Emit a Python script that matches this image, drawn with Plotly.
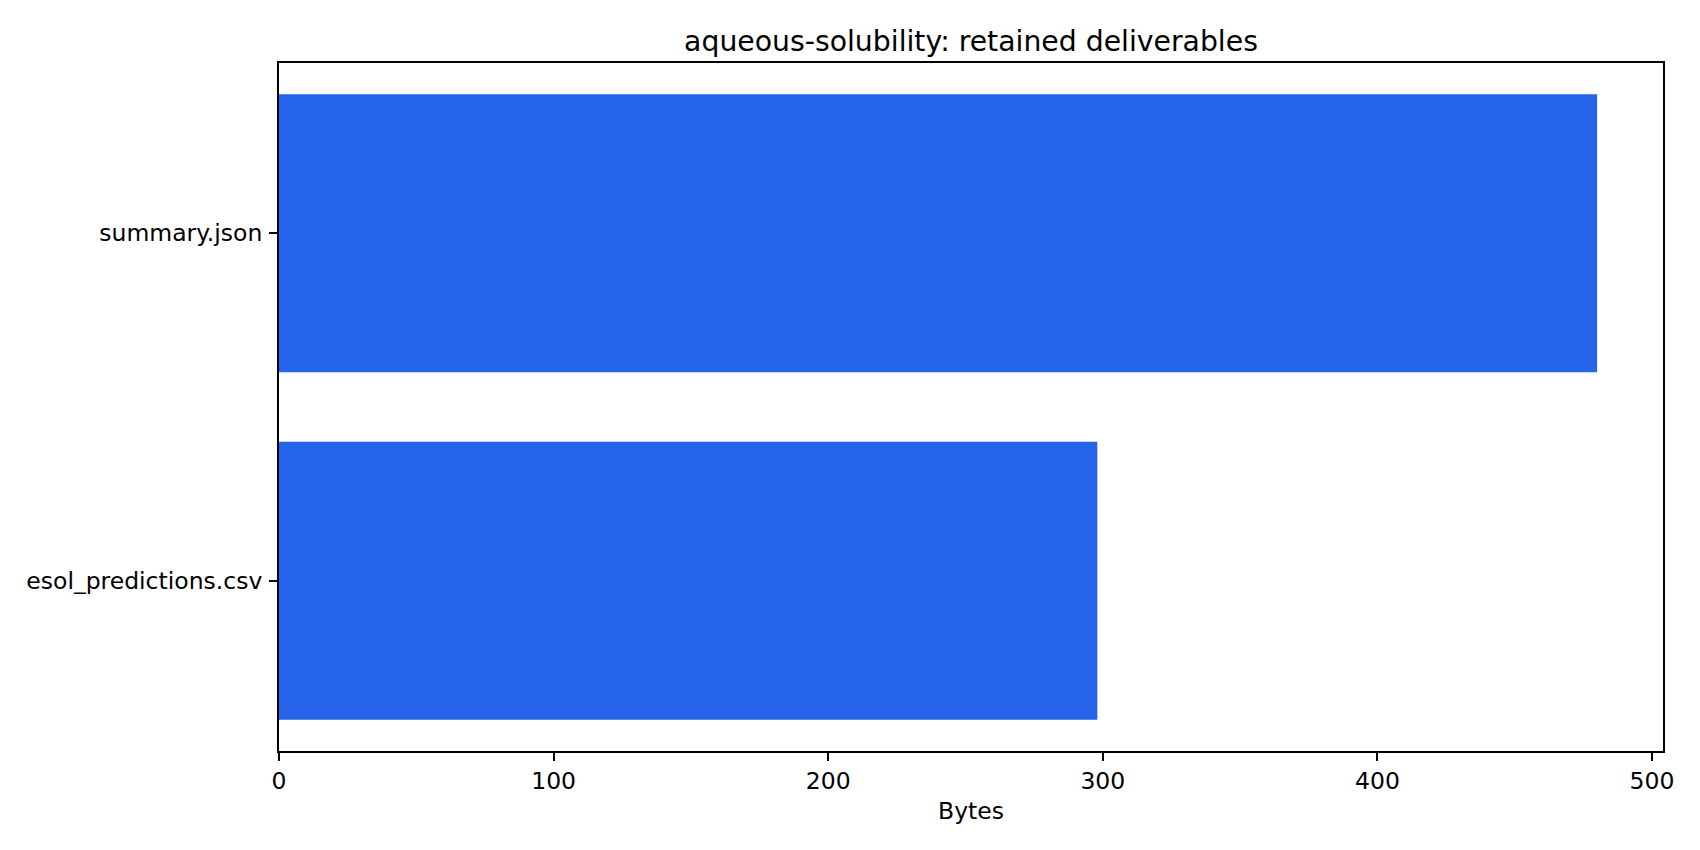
"""
Horizontal bar chart of the retained deliverable files and their sizes
for the aqueous-solubility run.
"""

import plotly.graph_objects as go

# file names, bottom to top
FILES = ["esol_predictions.csv", "summary.json"]
# size of each file in bytes
SIZES = [298, 480]
X_TICKS = [0, 100, 200, 300, 400, 500]

TITLE = "aqueous-solubility: retained deliverables"
X_LABEL = "Bytes"

FONT = "DejaVu Sans"
BAR_COLOR = "#2563eb"


def build_figure() -> go.Figure:
    fig = go.Figure(
        go.Bar(
            x=SIZES,
            y=FILES,
            orientation="h",
            marker_color=BAR_COLOR,
            marker_line_width=0))

    # matplotlib style box around the plot area
    axis_style = dict(
        showline=True,
        linecolor="black",
        linewidth=1.9,
        mirror=True,
        ticks="outside",
        ticklen=8,
        tickwidth=1.9,
        tickcolor="black",
        showgrid=False,
        zeroline=False,
        tickfont=dict(family=FONT, size=23.5, color="black"))

    fig.update_xaxes(
        range=[0, 504],
        tickvals=X_TICKS,
        title=dict(text=X_LABEL, font=dict(family=FONT, size=23.5,
                                           color="black"), standoff=8),
        **axis_style)
    fig.update_yaxes(
        type="category",
        range=[-0.49, 1.49],
        ticklabelstandoff=2,
        **axis_style)

    # the page body adds 8px on the left and top, so the margins are
    # trimmed to put the plot area where it belongs in the window
    fig.update_layout(
        width=1700,
        height=850,
        bargap=0.2,
        plot_bgcolor="white",
        paper_bgcolor="white",
        showlegend=False,
        margin=dict(l=271, r=45, t=55, b=107),
        title=dict(
            text=TITLE,
            x=0.5,
            xref="paper",
            xanchor="center",
            y=1,
            yref="paper",
            yanchor="bottom",
            pad=dict(b=12),
            font=dict(family=FONT, size=28.3, color="black")))
    return fig


def main():
    fig = build_figure()
    fig.write_html("out.html")


if __name__ == '__main__':
    main()
